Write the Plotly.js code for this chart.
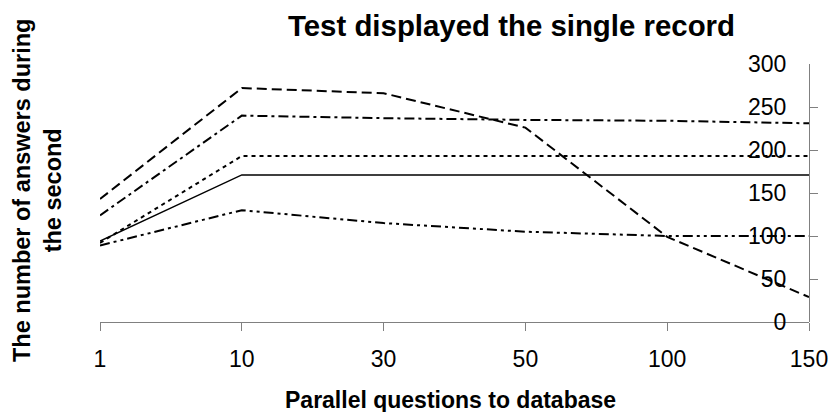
<!DOCTYPE html>
<html>
<head>
<meta charset="utf-8">
<script src="https://cdn.plot.ly/plotly-3.0.1.min.js"></script>
<style>html,body{margin:0;padding:0;background:#fff;}#chart{width:833px;height:412px;}</style>
</head>
<body>
<div id="chart"></div>
<script>
const categories = ["1", "10", "30", "50", "100", "150"];
const seriesDashed = [143, 272, 266, 226, 99, 29];
const seriesDashDot = [124, 240, 237, 235, 234, 231];
const seriesDotted = [92, 193, 193, 193, 193, 193];
const seriesSolid = [94, 171, 171, 171, 171, 171];
const seriesDashDotDot = [89, 130, 115, 105, 100, 100];
const yTicks = [0, 50, 100, 150, 200, 250, 300];

const FONT = "Liberation Sans, Arial, sans-serif";

function tr(y, dash, w) {
  return {x: categories, y: y, type: "scatter", mode: "lines",
          line: {color: "#000", width: w, dash: dash}, hoverinfo: "skip"};
}

const data = [
  tr(seriesSolid, "solid", 1.5),
  tr(seriesDotted, "4px,4px", 2),
  tr(seriesDashDotDot, "10px,4px,3px,4px,3px,4px", 2),
  tr(seriesDashDot, "10px,4px,3px,4px", 2),
  tr(seriesDashed, "10px,5px", 2)
];

const layout = {
  width: 833, height: 412,
  margin: {l: 100, r: 24, t: 64, b: 90},
  paper_bgcolor: "#fff", plot_bgcolor: "#fff",
  showlegend: false,
  font: {family: FONT, color: "#000"},
  title: {text: "<b>Test displayed the single record</b>", font: {family: FONT, size: 29.4, color: "#000"},
          x: 288/833, xref: "container", xanchor: "left", y: 1 - 26/412, yref: "container", yanchor: "middle"},
  xaxis: {type: "category", range: [0, 5], showgrid: false, zeroline: false,
          showline: true, linecolor: "#808080", linewidth: 1,
          ticks: "outside", ticklen: 8, tickcolor: "#808080",
          tickfont: {family: FONT, size: 23, color: "#000"}, ticklabelstandoff: 8},
  yaxis: {range: [0, 300], side: "left", anchor: "free", position: 1,
          showgrid: false, zeroline: false,
          showline: true, linecolor: "#808080", linewidth: 1,
          tickvals: yTicks, ticktext: yTicks.map(String),
          ticks: "inside", ticklen: 8, tickcolor: "#808080",
          tickfont: {family: FONT, size: 23, color: "#000"}, ticklabelstandoff: 18},
  annotations: [
    {text: "<b>Parallel questions to database</b>", xref: "paper", yref: "paper",
     x: (450 - 100)/709, y: -(400 - 322)/258, xanchor: "center", yanchor: "middle", showarrow: false,
     font: {family: FONT, size: 23, color: "#000"}},
    {text: "<b>The number of answers during<br>the second</b>", xref: "paper", yref: "paper",
     x: (37 - 100)/709, y: (322 - 191)/258, xanchor: "center", yanchor: "middle", showarrow: false,
     textangle: -90, font: {family: FONT, size: 23.5, color: "#000"}}
  ]
};

Plotly.newPlot("chart", data, layout, {displayModeBar: false, staticPlot: true});
</script>
</body>
</html>
